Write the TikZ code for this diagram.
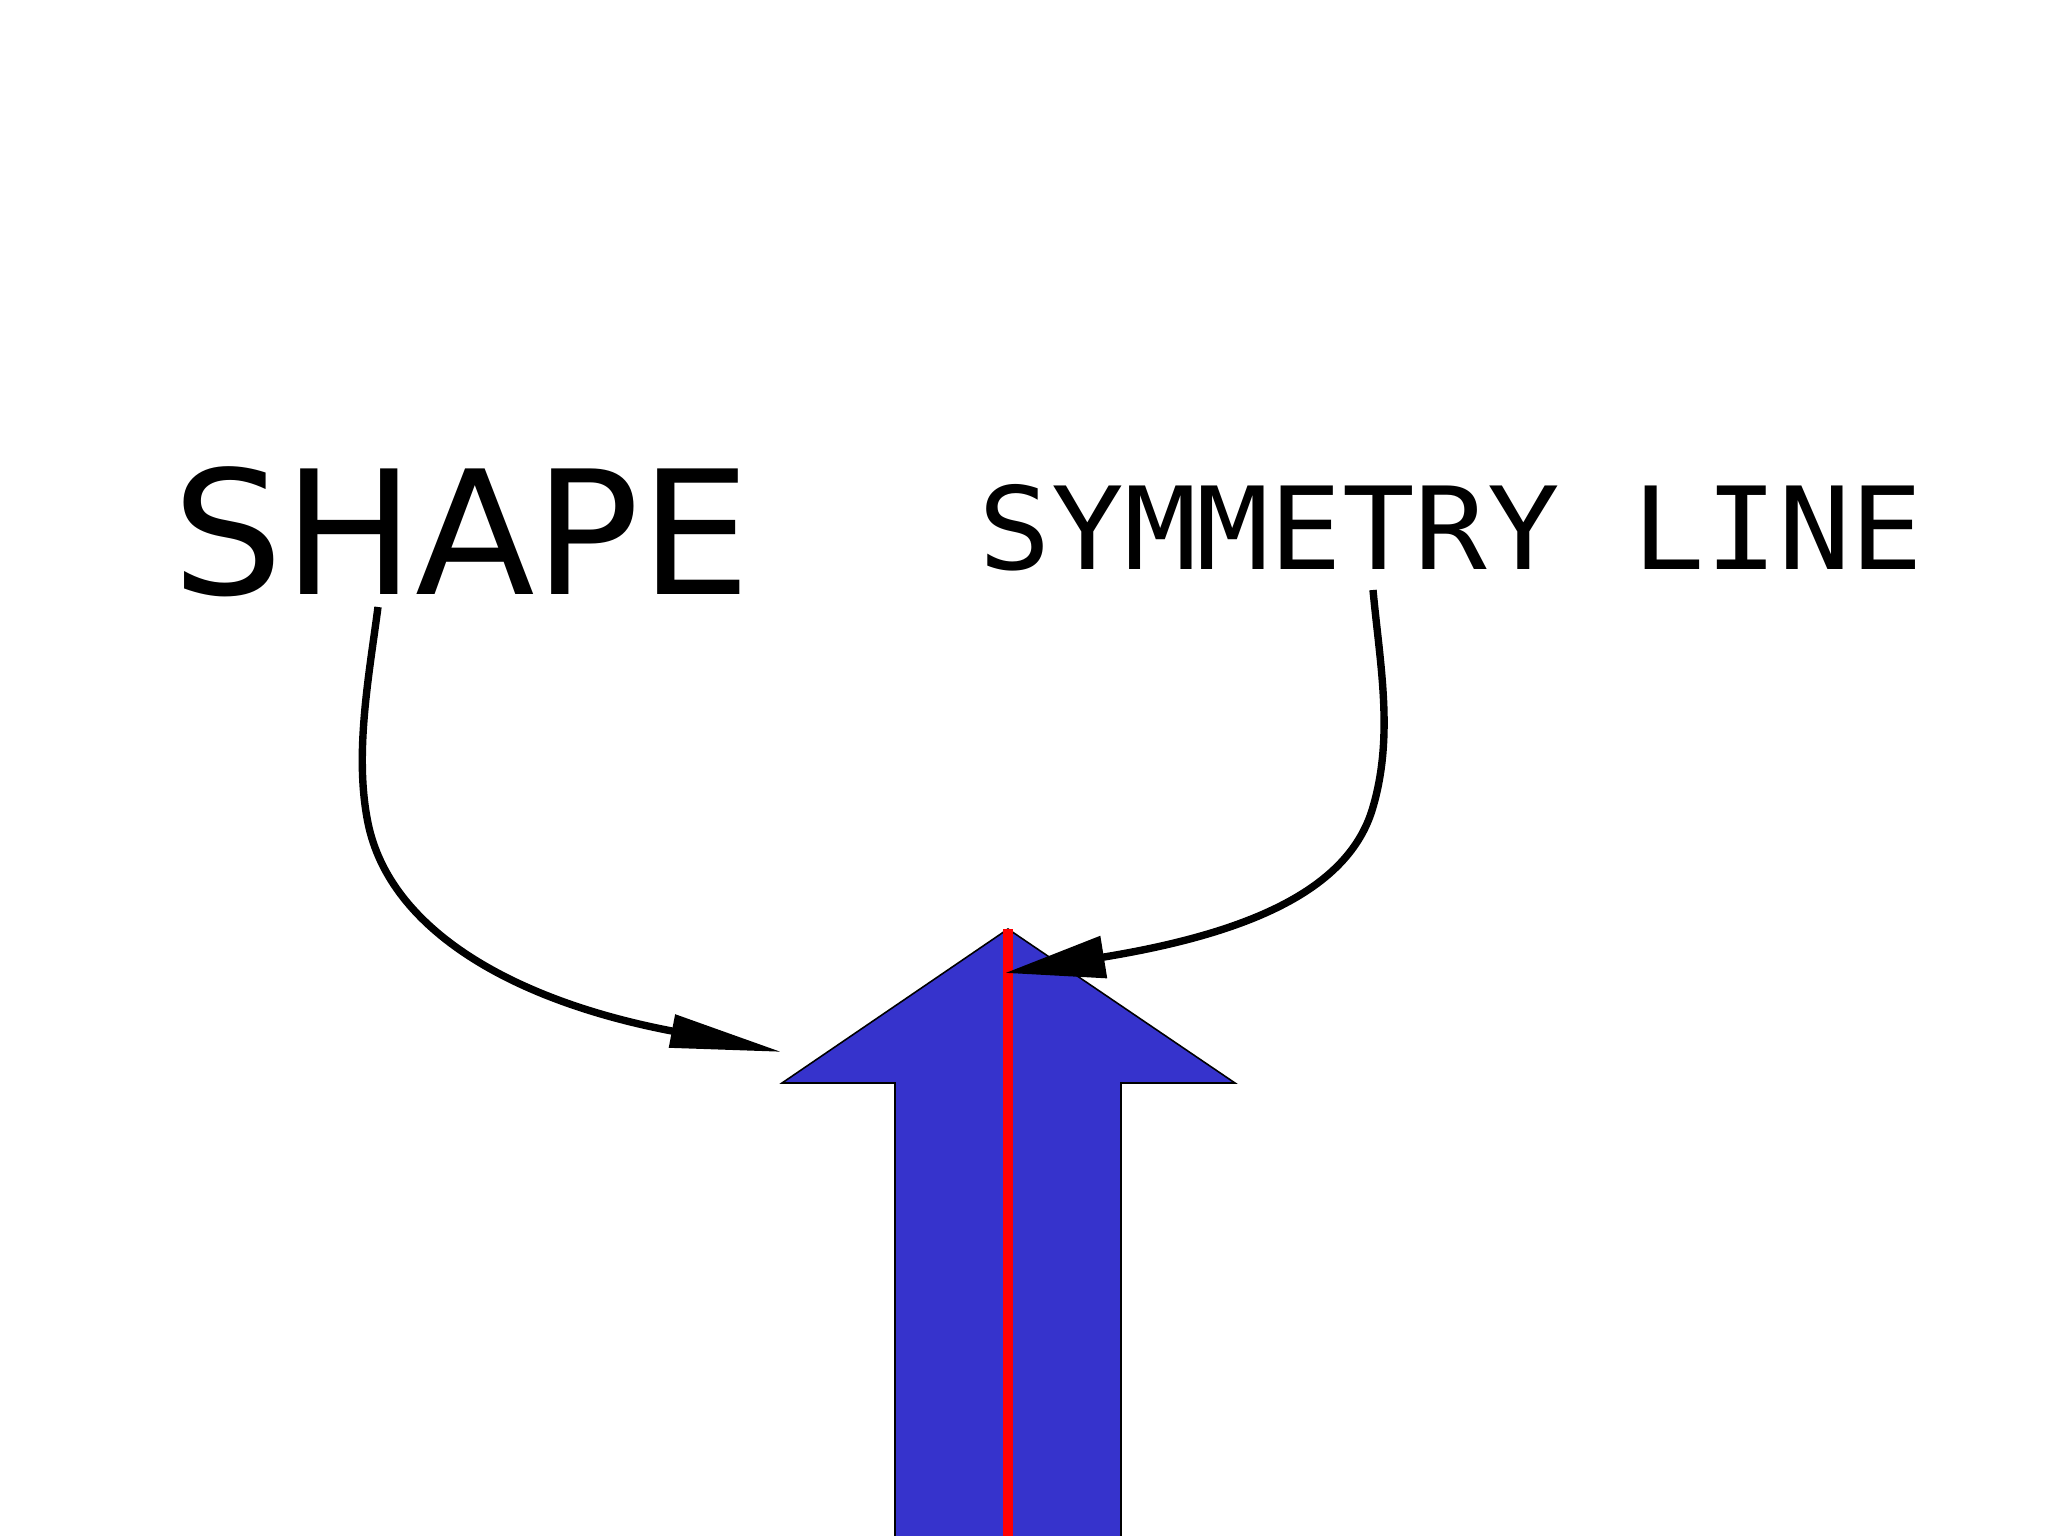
\documentclass[tikz,border=0pt]{standalone}
\usepackage{fontspec}
\newfontfamily\labelsans{DejaVu Sans}
\newfontfamily\labelmono{DejaVu Sans Mono}
\usetikzlibrary{arrows.meta}
\definecolor{arrowblue}{RGB}{54,51,204}
\definecolor{symred}{RGB}{255,0,0}

\begin{document}
\begin{tikzpicture}[x=0.01cm, y=-0.01cm,
    pointer/.style={line width=2.1pt},
    shapetipstyle/.style={-{Triangle[length=11.2mm, width=3.2mm]}},
    symtipstyle/.style={-{Triangle[length=10mm, width=4.1mm]}}]
    \useasboundingbox (0,0) rectangle (2048,1536);
    \clip (0,0) rectangle (2048,1536);

      % Define arrow parameters
      \def\tipx{1008}
      \def\tipy{929}
      \def\barb{1083}

      % Draw the big arrow
      \filldraw[fill=arrowblue, draw=black, line width=0.45pt]
        (\tipx,\tipy) -- (782,\barb) -- (895,\barb) -- (895,1560)
        -- (1121,1560) -- (1121,\barb) -- (1235,\barb) -- cycle;
      \draw[symred, line width=1mm] (\tipx,\tipy) -- (\tipx,1560);

      % Labels
      \node[anchor=base west, inner sep=0, font=\labelsans\fontsize{49}{49}\selectfont] (shape) at (172,594) {\scalebox{1.015}[1]{SHAPE}};
      \node[anchor=base west, inner sep=0, font=\labelmono\fontsize{32.6}{32.6}\selectfont] (symline) at (978,569) {\scalebox{1.053}[1]{SYMMETRY LINE}};

      % Pointer ends, bends and head bases
      \coordinate (shapefoot) at (378,607);
      \coordinate (shapebend) at (368,823);
      \coordinate (shapebase) at (672,1031);
      \coordinate (shapetip) at (782,1052);
      \coordinate (symfoot) at (1373,590);
      \coordinate (symbend) at (1373,807);
      \coordinate (symbase) at (1104,957);
      \coordinate (symtip) at (1005,973);

      % Draw the pointers
      \draw[pointer, shapetipstyle] (shapefoot) .. controls (369,676) and (354,754) .. (shapebend)
        .. controls (390,931) and (515,1001) .. (shapebase) -- (shapetip);
      \draw[pointer, symtipstyle] (symfoot) .. controls (1380,665) and (1394,735) .. (symbend)
        .. controls (1351,884) and (1262,931) .. (symbase) -- (symtip);
    \end{tikzpicture}
\end{document}
